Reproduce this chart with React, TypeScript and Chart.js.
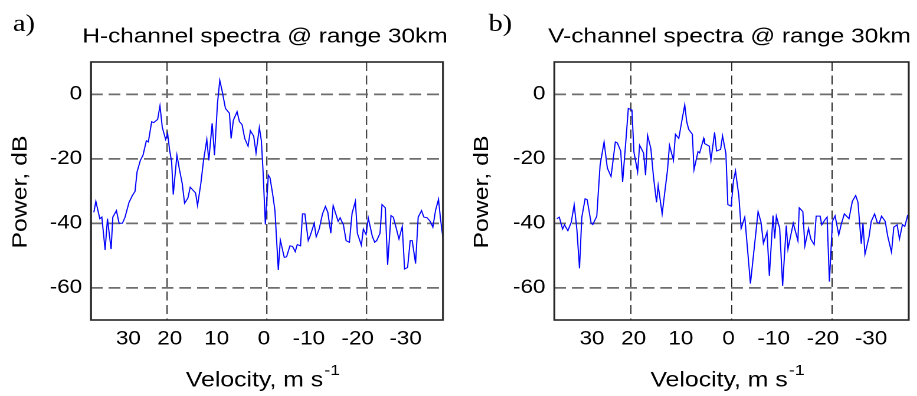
import React, { useEffect, useRef } from 'react';
import { Chart, registerables } from 'chart.js';

Chart.register(...registerables);

// ---------- data ----------
const velocityH = [34.73, 34.33, 33.53, 33.13, 32.47, 32.0, 31.27, 30.93, 30.2, 29.67, 29.0, 28.47, 27.67, 27.0, 26.47, 26.07, 25.4, 24.87, 24.2, 23.8, 23.13, 22.73, 21.93, 21.47, 21.0, 20.33, 19.93, 19.53, 19.13, 18.8, 18.07, 17.53, 17.0, 16.53, 15.87, 15.4, 14.33, 13.93, 13.27, 12.73, 12.07, 11.67, 11.0, 10.53, 9.93, 9.47, 8.93, 8.33, 7.53, 7.2, 6.73, 6.0, 5.53, 5.0, 4.47, 3.8, 3.33, 2.67, 2.2, 1.53, 1.13, 0.8, 0.33, -0.27, -0.6, -1.13, -1.6, -2.27, -2.67, -3.47, -3.93, -4.6, -5.13, -5.67, -6.07, -6.73, -7.13, -7.6, -8.27, -8.67, -9.47, -9.87, -10.47, -11.13, -11.73, -12.2, -12.8, -13.27, -13.8, -14.27, -14.67, -15.33, -15.87, -16.53, -17.07, -17.73, -18.13, -18.93, -19.33, -19.87, -20.33, -21.13, -21.6, -22.0, -22.67, -23.07, -23.73, -24.2, -24.87, -25.33, -25.87, -26.47, -27.13, -27.6, -28.2, -28.73, -29.13, -29.8, -30.33, -31.0, -31.47, -32.13, -32.73, -33.27, -33.8, -34.4, -34.8, -35.53];
const powerH = [-36.6, -33.2, -38.6, -38.1, -48.3, -38.6, -48.0, -38.1, -36.1, -40.0, -40.0, -38.1, -33.5, -31.4, -30.1, -24.1, -20.5, -18.9, -14.4, -14.8, -8.5, -8.8, -7.8, -3.6, -10.3, -14.0, -12.2, -17.4, -21.0, -31.1, -18.9, -23.6, -27.7, -33.8, -32.2, -28.8, -30.6, -34.5, -27.7, -20.5, -14.0, -20.5, -9.0, -18.9, -2.8, 4.3, 0.5, -4.4, -5.9, -13.7, -8.0, -5.4, -8.5, -9.4, -13.7, -16.1, -11.3, -13.0, -18.2, -10.3, -14.4, -23.6, -40.4, -25.1, -25.9, -30.9, -36.1, -54.5, -45.2, -50.6, -50.4, -47.0, -47.2, -48.8, -46.6, -47.0, -37.1, -37.1, -45.4, -43.9, -40.0, -44.2, -41.8, -37.1, -34.8, -36.6, -43.1, -34.5, -37.1, -39.4, -38.3, -40.5, -45.4, -45.9, -36.9, -33.2, -43.1, -46.8, -41.8, -43.5, -38.4, -44.1, -45.9, -45.4, -43.1, -34.2, -35.2, -52.9, -37.6, -38.1, -41.2, -44.9, -41.0, -54.2, -53.7, -45.4, -45.4, -52.5, -38.1, -36.1, -38.1, -38.3, -39.4, -41.2, -36.1, -32.6, -38.6, -47.5];

const velocityV = [34.78, 34.31, 33.65, 33.26, 32.6, 31.93, 31.34, 30.81, 30.28, 29.82, 29.16, 28.76, 27.97, 27.64, 26.84, 26.18, 25.39, 24.73, 24.0, 23.14, 22.74, 22.08, 21.69, 20.96, 20.56, 19.83, 19.44, 18.71, 18.31, 17.52, 17.12, 16.73, 16.07, 15.54, 14.94, 14.61, 13.82, 12.76, 12.36, 11.57, 11.17, 10.51, 9.98, 9.32, 8.93, 8.53, 7.8, 7.47, 6.68, 6.35, 5.55, 5.36, 4.43, 4.1, 3.37, 2.98, 2.18, 1.79, 1.12, 0.73, 0.07, -0.4, -0.79, -1.45, -1.92, -2.64, -3.77, -5.29, -5.88, -6.35, -7.07, -7.54, -8.26, -8.6, -8.93, -9.59, -10.18, -10.91, -11.24, -12.3, -13.22, -13.49, -14.21, -14.61, -15.34, -15.8, -16.46, -16.86, -17.65, -17.98, -18.58, -19.04, -19.5, -20.1, -20.63, -21.36, -21.88, -22.48, -23.4, -24.07, -24.73, -25.19, -25.85, -26.18, -26.58, -27.37, -27.83, -28.5, -29.02, -29.42, -29.88, -30.61, -31.14, -31.87, -32.33, -32.99, -33.45, -34.05, -34.51, -35.11];
const powerV = [-38.6, -38.1, -41.8, -40.5, -42.3, -39.7, -34.3, -41.8, -54.0, -38.1, -32.4, -32.7, -39.9, -40.4, -37.8, -22.0, -14.8, -22.9, -25.5, -14.8, -15.1, -17.6, -27.2, -12.7, -4.4, -4.9, -17.9, -24.1, -15.8, -18.2, -25.1, -12.7, -16.8, -25.7, -33.5, -28.3, -37.1, -23.6, -15.8, -20.5, -12.4, -13.7, -9.0, -3.3, -8.5, -10.9, -12.4, -23.4, -17.8, -18.2, -13.7, -15.3, -16.1, -20.5, -11.8, -17.6, -17.1, -12.9, -18.4, -34.2, -34.7, -26.7, -23.8, -31.4, -41.6, -38.1, -58.7, -36.4, -39.7, -46.2, -42.8, -56.3, -37.6, -44.7, -37.8, -41.5, -59.4, -40.7, -48.0, -40.0, -45.4, -35.2, -36.4, -47.0, -41.6, -44.9, -46.6, -37.8, -37.8, -40.5, -39.0, -38.1, -58.1, -39.4, -37.7, -43.6, -40.2, -37.1, -38.6, -33.2, -31.4, -33.5, -46.4, -40.0, -49.6, -44.4, -39.4, -37.1, -39.7, -40.0, -37.8, -39.4, -44.2, -49.0, -41.2, -40.5, -44.9, -40.4, -41.0, -37.4];

const yTickValues = [0, -20, -40, -60];
const xGridValues = [20, 0, -20];
const xTickLabelValues = [27.8, 19.5, 10.1, 0.6, -8.4, -18.2, -27.8];
const xTickLabels = ['30', '20', '10', '0', '-10', '-20', '-30'];
const panelTitles = ['H-channel spectra @ range 30km', 'V-channel spectra @ range 30km'];
const panelLetters = ['a)', 'b)'];
const xAxisLabel = 'Velocity, m s';
const xAxisLabelSup = '-1';
const yAxisLabel = 'Power, dB';

const X_MIN = -35.3;
const X_MAX = 35.3;
const Y_MIN = -70;
const Y_MAX = 10;

// ---------- layout ----------
const STRETCH = 1.18; // horizontal stretch of the reference picture's text
const HEIGHT = 396;
const PLOT_TOP = 62;
const PLOT_BOTTOM = 320;
const SANS = '"Liberation Sans", Arial, Helvetica, sans-serif';

type PanelSpec = {
  left: number; width: number; plotLeft: number; plotRight: number;
  letterX: number; yTitleCenter: number; vGridColor: string; vGridWidth: number;
};

const panels: PanelSpec[] = [
  { left: 0, width: 458, plotLeft: 91, plotRight: 443, letterX: 13, yTitleCenter: 20.5, vGridColor: '#4a4a4a', vGridWidth: 1.4 },
  { left: 458, width: 459, plotLeft: 96.3, plotRight: 450.7, letterX: 30.5, yTitleCenter: 24.5, vGridColor: '#1a1a1a', vGridWidth: 1.1 },
];

const decorPlugin = {
  id: 'decor',
  afterDraw(chart: any, _args: any, opts: any) {
    const { ctx, chartArea: a } = chart;
    const cxPlot = (a.left + a.right) / 2;
    ctx.save();
    // frame
    ctx.strokeStyle = '#262626';
    ctx.lineWidth = 1.6;
    ctx.setLineDash([]);
    ctx.strokeRect(a.left, a.top, a.right - a.left, a.bottom - a.top);
    // panel letter
    ctx.fillStyle = '#000';
    ctx.textAlign = 'left';
    ctx.textBaseline = 'alphabetic';
    ctx.font = '24px "Liberation Serif", "Times New Roman", serif';
    ctx.fillText(opts.letter, opts.letterX, 31);
    // panel title
    ctx.font = `20.7px ${SANS}`;
    ctx.textAlign = 'center';
    ctx.fillText(opts.title, cxPlot - 2 / STRETCH, 42.5);
    // x axis title with superscript
    ctx.textAlign = 'left';
    const mainFont = `21px ${SANS}`;
    const supFont = `15px ${SANS}`;
    ctx.font = mainFont;
    const w1 = ctx.measureText(xAxisLabel).width;
    ctx.font = supFont;
    const w2 = ctx.measureText(xAxisLabelSup).width;
    const cx = cxPlot - 4 / STRETCH;
    const x0 = cx - (w1 + w2 + 1) / 2;
    ctx.font = mainFont;
    ctx.fillText(xAxisLabel, x0, 386.5);
    ctx.font = supFont;
    ctx.fillText(xAxisLabelSup, x0 + w1 + 1, 375);
    ctx.restore();

    // y axis title, stretched along its writing direction like the other texts
    ctx.save();
    ctx.translate(opts.yTitleX, (a.top + a.bottom) / 2 + 1);
    ctx.rotate(-Math.PI / 2);
    ctx.scale(STRETCH, 1 / STRETCH);
    ctx.fillStyle = '#000';
    ctx.font = `21px ${SANS}`;
    ctx.textAlign = 'center';
    ctx.textBaseline = 'middle';
    ctx.fillText(yAxisLabel, 0, 0);
    ctx.restore();
  },
};

function Panel({ idx }: { idx: number }) {
  const ref = useRef<HTMLCanvasElement>(null);
  const p = panels[idx];
  const logicalWidth = p.width / STRETCH;
  const plotLeft = p.plotLeft / STRETCH;
  const plotRight = p.plotRight / STRETCH;

  useEffect(() => {
    if (!ref.current) return;
    const vel = idx === 0 ? velocityH : velocityV;
    const pow = idx === 0 ? powerH : powerV;
    const data = vel.map((v, i) => ({ x: v, y: pow[i] }));
    const labelMap = new Map<number, string>();
    xTickLabelValues.forEach((v, i) => labelMap.set(v, xTickLabels[i]));

    const chart = new Chart(ref.current, {
      type: 'line',
      data: {
        datasets: [{
          data,
          borderColor: '#0000ff',
          borderWidth: 1,
          pointRadius: 0,
          tension: 0,
          fill: false,
        }],
      },
      plugins: [decorPlugin],
      options: {
        animation: false,
        responsive: true,
        maintainAspectRatio: false,
        devicePixelRatio: 2,
        events: [],
        layout: { padding: { left: 0, right: logicalWidth - plotRight, top: PLOT_TOP, bottom: 0 } },
        plugins: {
          legend: { display: false },
          tooltip: { enabled: false },
          title: { display: false },
          decor: {
            letter: panelLetters[idx],
            title: panelTitles[idx],
            letterX: p.letterX / STRETCH,
            yTitleX: p.yTitleCenter / STRETCH,
          },
        } as any,
        scales: {
          x: {
            type: 'linear',
            reverse: true,
            min: X_MIN,
            max: X_MAX,
            afterBuildTicks: (scale: any) => {
              const vals = [...xGridValues, ...xTickLabelValues].sort((a, b) => b - a);
              scale.ticks = vals.map((v) => ({ value: v }));
            },
            afterFit: (scale: any) => { scale.height = HEIGHT - PLOT_BOTTOM; },
            ticks: {
              autoSkip: false,
              maxRotation: 0,
              minRotation: 0,
              padding: 8,
              color: '#000',
              font: { family: SANS, size: 19 },
              callback: (value: any) => labelMap.get(value) ?? '',
            },
            grid: {
              drawTicks: false,
              color: (c: any) => (c.tick && xGridValues.includes(c.tick.value) ? p.vGridColor : 'rgba(0,0,0,0)'),
              lineWidth: p.vGridWidth / STRETCH,
            },
            border: { display: false, dash: [9, 4.5] },
            title: { display: false },
          },
          y: {
            type: 'linear',
            min: Y_MIN,
            max: Y_MAX,
            afterBuildTicks: (scale: any) => {
              scale.ticks = yTickValues.map((v) => ({ value: v }));
            },
            afterFit: (scale: any) => { scale.width = plotLeft; },
            ticks: {
              padding: 7.5,
              color: '#000',
              font: { family: SANS, size: 19 },
              callback: (value: any) => String(value),
            },
            grid: {
              drawTicks: false,
              color: '#6e6e6e',
              lineWidth: 1.7,
            },
            border: { display: false, dash: [10, 5] },
            title: { display: false },
          },
        },
      } as any,
    });
    return () => chart.destroy();
  }, [idx]);

  return (
    <div
      style={{
        position: 'absolute',
        left: p.left,
        top: 0,
        width: logicalWidth,
        height: HEIGHT,
        transform: `scaleX(${STRETCH})`,
        transformOrigin: '0 0',
      }}
    >
      <canvas ref={ref} />
    </div>
  );
}

export default function App() {
  return (
    <div style={{ position: 'absolute', left: 0, top: 0, width: 917, height: HEIGHT, background: '#fff', overflow: 'hidden' }}>
      <Panel idx={0} />
      <Panel idx={1} />
    </div>
  );
}
